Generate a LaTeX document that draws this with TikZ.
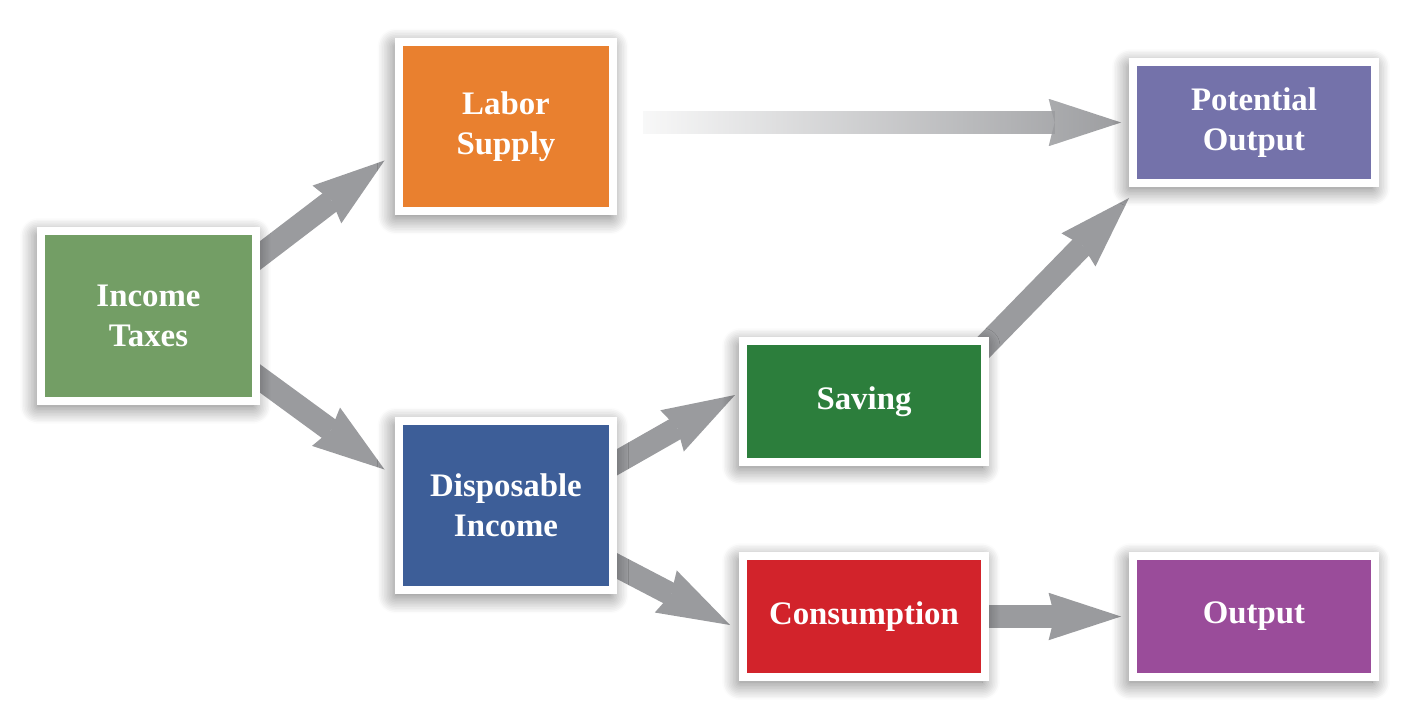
\documentclass[tikz,border=0pt]{standalone}
\usepackage{fontspec}
\setmainfont{Liberation Serif}
\usetikzlibrary{positioning, calc, arrows.meta, shadows.blur, fadings, backgrounds}

\definecolor{taxgreen}{HTML}{739E65}
\definecolor{laborange}{HTML}{E9802F}
\definecolor{incomeblue}{HTML}{3D5E98}
\definecolor{savegreen}{HTML}{2C7E3C}
\definecolor{consred}{HTML}{D2232B}
\definecolor{potpurple}{HTML}{7472AA}
\definecolor{outpurple}{HTML}{9A4C9A}
\definecolor{arrowgray}{HTML}{9A9B9E}

\begin{document}
\begin{tikzpicture}[x=0.02cm, y=-0.02cm,
  softshadow/.style={blur shadow={shadow xshift=-0.06cm, shadow yshift=-0.1cm,
    shadow blur radius=0.36cm, shadow blur steps=12, shadow opacity=60}},
  block/.style={rectangle, draw=white, line width=0.16cm, text=white, align=center,
    font=\bfseries\fontsize{18.7}{23}\selectfont, softshadow},
  bigblock/.style={block, minimum width=4.3cm, minimum height=3.4cm},
  smallblock/.style={block, minimum width=4.84cm, minimum height=2.42cm},
  flow/.style={draw=arrowgray, line width=0.46cm,
    -{Stealth[length=1.45cm, width=0.95cm, inset=0.12cm, line width=0pt]}}]

  \useasboundingbox (0,0) rectangle (1422,720);

  % boxes
  \node[bigblock, fill=taxgreen] (taxes) at (148.5,316) {Income\\Taxes};
  \node[bigblock, fill=laborange] (labor) at (506,126.5) {Labor\\Supply};
  \node[bigblock, fill=incomeblue] (disposable) at (506,505.5) {Disposable\\Income};
  \node[smallblock, fill=savegreen] (saving) at (864,401.5) {Saving};
  \node[smallblock, fill=consred] (consumption) at (864,616.5) {Consumption};
  \node[smallblock, fill=potpurple] (potential) at (1254,122.5) {Potential\\Output};
  \node[smallblock, fill=outpurple] (output) at (1254,616.5) {Output};

  % arrows
  \begin{scope}[on background layer]
    \draw[flow] ([xshift=-0.3cm,yshift=-0.8cm]taxes.north east) -- ([xshift=-0.2cm,yshift=1.1cm]labor.south west);
    \draw[flow] ([xshift=-0.3cm,yshift=0.75cm]taxes.south east) -- ([xshift=-0.2cm,yshift=-1.06cm]disposable.north west);
    \draw[flow, path fading=west, shorten <=0.5cm] (labor.east |- potential.west) -- ([xshift=-0.16cm]potential.west);
    \draw[flow] ([xshift=-0.3cm,yshift=0.7cm]disposable.east) -- ([xshift=-0.08cm,yshift=0.13cm]saving.west);
    \draw[flow] ([xshift=-0.26cm,yshift=0.7cm]disposable.south east) -- ([xshift=-0.18cm,yshift=-0.17cm]consumption.west);
    \draw[flow] ([xshift=-0.28cm,yshift=-0.38cm]saving.north east) -- ([yshift=-0.22cm]potential.south west);
    \draw[flow] ([xshift=-0.1cm]consumption.east) -- ([xshift=-0.16cm]output.west);
  \end{scope}
\end{tikzpicture}
\end{document}
